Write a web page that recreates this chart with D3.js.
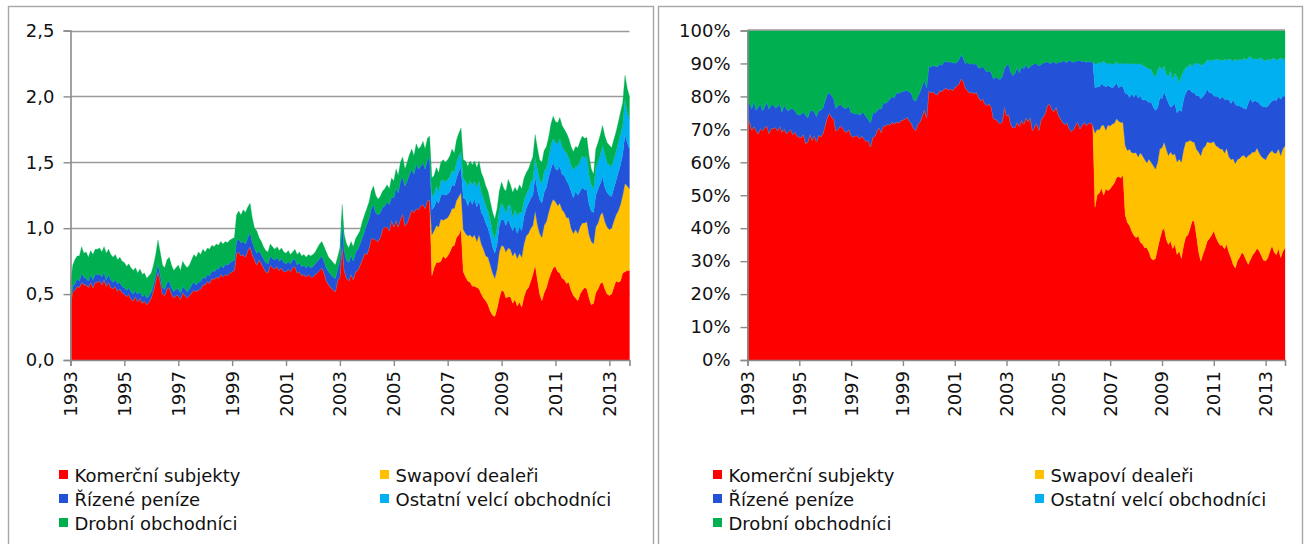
<!DOCTYPE html>
<html>
<head>
<meta charset="utf-8">
<script src="https://cdn.jsdelivr.net/npm/d3@7"></script>
<style>
  html, body { margin: 0; padding: 0; background: #fff; }
  svg { display: block; font-family: "DejaVu Sans", Verdana, sans-serif; }
</style>
</head>
<body>
<svg id="chart" width="1306" height="544"></svg>
<script>
// Open interest by trader category, monthly, Jan 1993 – Oct 2013 (millions of contracts)
const firstMonth = new Date(1993, 0, 1);
const lastMonth = new Date(2013, 9, 1);
// Swap dealers and other large traders are reported separately from June 2006
const disaggregatedFrom = new Date(2006, 5, 1);

const komercni = [
  .43,.52,.53,.56,.55,.59,.57,.57,.55,.59,.55,.59,
  .59,.60,.57,.61,.56,.59,.55,.54,.56,.52,.54,.51,
  .50,.48,.50,.46,.45,.48,.44,.47,.43,.45,.42,.44,
  .47,.53,.60,.67,.60,.50,.49,.54,.55,.50,.47,.49,
  .49,.46,.51,.49,.47,.49,.51,.53,.52,.53,.54,.57,
  .57,.60,.58,.62,.61,.63,.62,.65,.63,.65,.64,.66,
  .67,.68,.81,.82,.79,.80,.78,.83,.86,.80,.76,.72,
  .76,.73,.70,.67,.66,.72,.70,.69,.71,.68,.70,.67,
  .67,.69,.67,.70,.71,.66,.67,.64,.65,.63,.65,.63,
  .63,.65,.66,.68,.70,.66,.60,.57,.55,.53,.52,.60,
  .63,.88,.68,.62,.60,.65,.61,.67,.68,.72,.76,.81,
  .80,.85,.92,.92,.91,.90,.93,.99,1.01,1.01,.98,1.06,
  1.01,1.06,1.01,1.07,1.11,1.02,1.04,1.09,1.14,1.12,1.15,1.14,
  1.17,1.18,1.15,1.21,1.21,.64,.70,.74,.74,.75,.79,.77,
  .79,.82,.86,.87,.93,.95,.99,.67,.63,.60,.59,.56,
  .56,.55,.54,.50,.47,.45,.42,.37,.34,.33,.39,.47,
  .53,.52,.47,.48,.48,.43,.46,.41,.44,.40,.48,.53,
  .55,.60,.65,.72,.61,.50,.45,.51,.55,.61,.66,.70,
  .71,.67,.66,.62,.61,.58,.59,.53,.49,.47,.45,.50,
  .53,.55,.54,.47,.42,.43,.51,.54,.58,.59,.54,.50,
  .49,.50,.55,.60,.59,.60,.66,.67,.68,.68
];

const swapovi = [
  .31,.28,.28,.27,.32,.27,.30,
  .29,.29,.29,.28,.28,.29,.28,.32,.33,.34,.36,.37,
  .39,.35,.41,.38,.37,.34,.36,.35,.32,.29,.30,.35,
  .34,.34,.35,.37,.36,.36,.36,.36,.37,.38,.40,.41,
  .41,.40,.37,.41,.42,.46,.48,.51,.50,.51,.52,.52,
  .49,.50,.53,.52,.51,.50,.49,.47,.47,.52,.51,.51,
  .51,.49,.51,.48,.48,.45,.50,.50,.52,.53,.51,.51,
  .50,.50,.50,.50,.54,.58,.59,.67,.64,.62
];

const rizene = [
  .03,.04,.05,.06,.05,.07,.06,.05,.05,.06,.06,.06,
  .06,.05,.06,.06,.05,.06,.06,.05,.05,.06,.05,.05,
  .05,.05,.05,.06,.05,.05,.06,.05,.05,.05,.05,.05,
  .05,.05,.05,.06,.05,.05,.05,.05,.05,.05,.05,.05,
  .05,.05,.05,.05,.05,.05,.06,.06,.05,.06,.06,.06,
  .05,.05,.06,.06,.06,.06,.07,.07,.07,.08,.08,.08,
  .08,.08,.09,.10,.10,.10,.10,.10,.11,.10,.09,.09,
  .07,.07,.07,.07,.07,.07,.07,.07,.07,.07,.07,.07,
  .06,.06,.06,.06,.06,.06,.07,.07,.07,.07,.07,.07,
  .08,.08,.09,.09,.09,.09,.10,.10,.10,.10,.10,.09,
  .13,.18,.15,.14,.14,.15,.14,.15,.16,.16,.17,.17,
  .23,.23,.23,.26,.21,.20,.19,.17,.16,.19,.20,.18,
  .22,.25,.26,.29,.28,.30,.32,.32,.31,.29,.34,.31,
  .30,.32,.30,.31,.33,.19,.18,.19,.18,.18,.20,.18,
  .18,.17,.18,.17,.17,.19,.19,.24,.26,.23,.27,.25,
  .27,.26,.26,.24,.25,.25,.22,.22,.20,.19,.19,.20,
  .20,.20,.20,.22,.18,.19,.20,.19,.20,.20,.21,.21,
  .23,.23,.23,.26,.26,.26,.26,.25,.26,.27,.27,.28,
  .25,.27,.28,.27,.28,.28,.25,.28,.27,.29,.29,.27,
  .27,.25,.24,.23,.23,.24,.24,.26,.24,.27,.26,.26,
  .26,.24,.25,.26,.29,.30,.31,.37,.33,.30
];

const ostatni = [
  .10,.10,.11,.09,.11,.11,.10,
  .11,.11,.11,.10,.12,.12,.12,.14,.14,.15,.14,.15,
  .14,.15,.15,.15,.14,.13,.13,.12,.11,.11,.13,.12,
  .12,.10,.09,.11,.15,.10,.12,.14,.11,.14,.12,.11,
  .10,.12,.12,.15,.16,.15,.15,.16,.15,.15,.18,.18,
  .20,.20,.21,.21,.19,.21,.20,.20,.21,.19,.22,.23,
  .24,.24,.26,.23,.20,.18,.21,.21,.22,.24,.25,.23,
  .23,.23,.22,.22,.23,.23,.22,.27,.23,.23
];

const drobni = [
  .13,.16,.18,.17,.19,.20,.18,.20,.18,.18,.19,.19,
  .19,.20,.19,.19,.20,.19,.19,.19,.19,.18,.19,.19,
  .19,.18,.18,.18,.18,.17,.16,.17,.17,.16,.15,.15,
  .14,.14,.15,.18,.17,.17,.16,.17,.18,.17,.16,.16,
  .18,.17,.19,.18,.18,.18,.19,.21,.21,.23,.20,.21,
  .20,.20,.20,.19,.19,.19,.18,.18,.18,.17,.17,.17,
  .17,.17,.20,.21,.21,.24,.24,.23,.22,.18,.15,.17,
  .10,.10,.09,.09,.09,.09,.09,.08,.08,.08,.08,.08,
  .08,.08,.07,.06,.07,.08,.08,.08,.08,.08,.08,.09,
  .09,.09,.10,.11,.11,.11,.12,.11,.11,.11,.10,.09,
  .09,.12,.12,.12,.11,.10,.11,.10,.11,.10,.12,.12,
  .12,.12,.13,.14,.13,.12,.12,.12,.13,.13,.12,.14,
  .13,.14,.13,.14,.15,.13,.14,.15,.15,.14,.15,.15,
  .15,.16,.15,.16,.16,.14,.14,.14,.14,.14,.15,.15,
  .15,.16,.16,.15,.17,.17,.18,.15,.15,.15,.15,.15,
  .15,.15,.15,.15,.15,.15,.15,.14,.15,.15,.14,.14,
  .16,.14,.17,.19,.16,.19,.17,.18,.21,.18,.17,.16,
  .16,.15,.17,.17,.16,.15,.16,.16,.16,.15,.16,.17,
  .16,.16,.16,.16,.16,.15,.15,.14,.14,.15,.14,.15,
  .15,.15,.14,.14,.12,.11,.14,.14,.15,.15,.14,.15,
  .15,.14,.15,.15,.15,.17,.17,.18,.18,.17
];

const seriesKeys = ["komercni", "swapovi", "rizene", "ostatni", "drobni"];
const seriesLabels = ["Komerční subjekty", "Swapoví dealeři", "Řízené peníze", "Ostatní velcí obchodníci", "Drobní obchodníci"];
const seriesColors = ["#ff0000", "#ffc000", "#2352d9", "#00b0f0", "#00b050"];
const legendOrder = [0, 1, 2, 3, 4];

const leftTicks = [0, 0.5, 1, 1.5, 2, 2.5];
const rightTicks = [0, 0.1, 0.2, 0.3, 0.4, 0.5, 0.6, 0.7, 0.8, 0.9, 1];
const yearTicks = [1993, 1995, 1997, 1999, 2001, 2003, 2005, 2007, 2009, 2011, 2013];

// ---- table ----
const months = d3.timeMonth.range(firstMonth, d3.timeMonth.offset(lastMonth, 1));
const splitIdx = months.findIndex(d => +d === +disaggregatedFrom);
const rows = months.map((date, i) => ({
  date,
  komercni: komercni[i],
  swapovi: i >= splitIdx ? swapovi[i - splitIdx] : 0,
  rizene: rizene[i],
  ostatni: i >= splitIdx ? ostatni[i - splitIdx] : 0,
  drobni: drobni[i]
}));

const stackAbs = d3.stack().keys(seriesKeys)(rows);
const stackPct = d3.stack().keys(seriesKeys).offset(d3.stackOffsetExpand)(rows);

const svg = d3.select("#chart");
const gridColor = "#9a9a9a";
const axisColor = "#8a8a8a";
const fontSize = 18;

// panel frames
svg.append("rect").attr("x", 8.5).attr("y", 6.5).attr("width", 645).attr("height", 600)
  .attr("fill", "none").attr("stroke", "#a6a6a6").attr("stroke-width", 1.4);
svg.append("rect").attr("x", 658.5).attr("y", 6.5).attr("width", 644).attr("height", 600)
  .attr("fill", "none").attr("stroke", "#a6a6a6").attr("stroke-width", 1.4);

function drawPanel(cfg) {
  const g = svg.append("g");
  const x = d3.scaleTime().domain([firstMonth, lastMonth]).range([cfg.x0, cfg.x1]);
  const y = d3.scaleLinear().domain([0, cfg.yMax]).range([360, 30.5]);

  // gridlines (behind the areas)
  g.append("g").selectAll("line").data(cfg.ticks.filter(t => t > 0)).join("line")
    .attr("x1", cfg.x0).attr("x2", cfg.x1)
    .attr("y1", d => Math.round(y(d)) + 0.5).attr("y2", d => Math.round(y(d)) + 0.5)
    .attr("stroke", gridColor).attr("stroke-width", 1.4);

  const area = d3.area()
    .x(d => x(d.data.date))
    .y0(d => y(d[0]))
    .y1(d => y(d[1]));

  g.append("g").selectAll("path").data(cfg.stack).join("path")
    .attr("d", area)
    .attr("fill", (d, i) => seriesColors[i])
    .attr("stroke", (d, i) => seriesColors[i])
    .attr("stroke-width", 0.3);

  if (cfg.topLine) {
    g.append("line").attr("x1", cfg.x0).attr("x2", cfg.x1)
      .attr("y1", 30).attr("y2", 30)
      .attr("stroke", gridColor).attr("stroke-width", 1.4);
  }

  // y axis
  const yAxis = d3.axisLeft(y).tickValues(cfg.ticks).tickSize(7).tickPadding(cfg.pad)
    .tickFormat(cfg.fmt);
  const ya = g.append("g").attr("transform", `translate(${cfg.x0},0)`).call(yAxis);
  ya.select(".domain").attr("stroke", axisColor).attr("stroke-width", 1.6);
  ya.selectAll(".tick line").attr("stroke", axisColor).attr("stroke-width", 1.4);
  ya.selectAll(".tick text").attr("font-size", fontSize).attr("fill", "#111")
    .attr("font-family", "DejaVu Sans, Verdana, sans-serif");

  // x axis
  const tickDates = yearTicks.map(yr => new Date(yr, 0, 1));
  const xAxis = d3.axisBottom(x).tickValues(tickDates).tickSize(6).tickFormat("");
  const xa = g.append("g").attr("transform", "translate(0,360)").call(xAxis);
  xa.select(".domain").attr("stroke", axisColor).attr("stroke-width", 1.6);
  xa.selectAll(".tick line").attr("stroke", axisColor).attr("stroke-width", 1.4);

  g.append("g").selectAll("text").data(tickDates).join("text")
    .attr("transform", d => `translate(${x(d)},371) rotate(-90)`)
    .attr("text-anchor", "end")
    .attr("dy", "0.36em")
    .attr("font-size", fontSize)
    .attr("fill", "#111")
    .text(d => d.getFullYear());

  // legend
  const lg = g.append("g");
  const rowY = [475, 499, 523];
  legendOrder.forEach((si, k) => {
    const col = k % 2, row = Math.floor(k / 2);
    const lx = cfg.legendX[col];
    lg.append("rect").attr("x", lx).attr("y", rowY[row] - 5)
      .attr("width", 9).attr("height", 9).attr("fill", seriesColors[si]);
    lg.append("text").attr("x", lx + 15.5).attr("y", rowY[row] + 6.5)
      .attr("font-size", fontSize).attr("fill", "#111")
      .text(seriesLabels[si]);
  });
}

drawPanel({
  x0: 70.5, x1: 629.5, yMax: 2.5, ticks: leftTicks, stack: stackAbs, pad: 9,
  fmt: d => d3.format(".1f")(d).replace(".", ","),
  legendX: [59, 380], topLine: false
});

drawPanel({
  x0: 747.5, x1: 1285, yMax: 1, ticks: rightTicks, stack: stackPct, pad: 10,
  fmt: d => Math.round(d * 100) + "%",
  legendX: [713, 1035], topLine: true
});
</script>
</body>
</html>
